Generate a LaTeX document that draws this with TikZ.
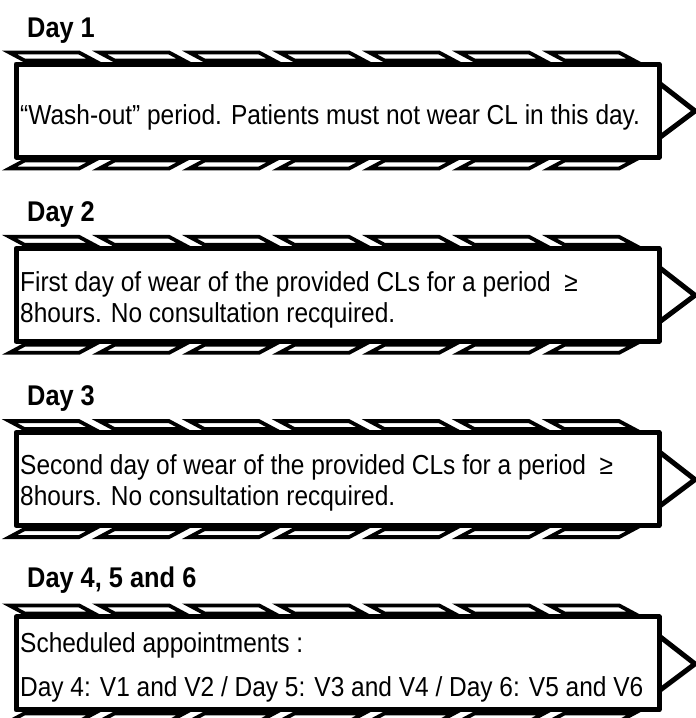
\documentclass[tikz,border=0pt]{standalone}
\usepackage{fontspec}
\setmainfont{Liberation Sans}[FakeStretch=0.89]
\usepackage{xcolor}

\tikzset{
	boxline/.style={line width=5pt, line join=round},
	tabline/.style={line width=3.8pt, fill=white, draw=black, line join=miter},
	daylabel/.style={anchor=base west, inner sep=0pt, font=\fontsize{28.5}{33}\selectfont\bfseries},
	daytext/.style={anchor=base west, inner sep=0pt, align=left, font=\fontsize{27.5}{31}\selectfont}
}

\begin{document}
\begin{tikzpicture}[x=1pt,y=-1pt]
	% Parameters
	\def\boxl{16}
	\def\boxr{659}
	\def\boxh{93}
	\def\pitch{184.3}
	\def\firsttop{64}
	\def\tipx{695}
	\def\tabstep{90}
	\def\tabw{69.5}
	\def\slant{15}
	
	\useasboundingbox (0,0) rectangle (696,718);
	\clip (0,0) rectangle (696,718);
	
	%blocks
	\foreach \i in {0,...,3} {
		\begin{scope}[shift={(0,\firsttop+\i*\pitch)}]
			\draw[boxline] (\boxl,0) rectangle (\boxr,\boxh);
			\draw[boxline, line join=miter] (\boxr,19) -- (\tipx,47) -- (\boxr,74);
			%tabs above and below
			\foreach \k in {0,...,6} {
				\filldraw[tabline] (9.5+\k*\tabstep,-11.5) -- ++(\tabw,0) -- ++(\slant,8) -- ++(-\tabw,0) -- cycle;
				\filldraw[tabline] (9.5+\k*\tabstep,\boxh+11.5) -- ++(\tabw,0) -- ++(\slant,-8) -- ++(-\tabw,0) -- cycle;
			}
		\end{scope}
	}
	
	%labels
	\node[daylabel] (day1) at (27,\firsttop-27) {Day 1};
	\node[daylabel] (day2) at (27,\firsttop+\pitch-27) {Day 2};
	\node[daylabel] (day3) at (27,\firsttop+2*\pitch-27) {Day 3};
	\node[daylabel] (day456) at (27,\firsttop+3*\pitch-29) {Day 4, 5 and 6};
	
	%texts (anchored at the baseline of the last line)
	\node[daytext] (txt1) at (20,\firsttop+60) {“Wash-out” period. Patients must not wear CL in this day.};
	\node[daytext] (txt2) at (20,\firsttop+\pitch+74) {First day of wear of the provided CLs for a period \ ≥\\8hours. No consultation recquired.};
	\node[daytext] (txt3) at (20,\firsttop+2*\pitch+73) {Second day of wear of the provided CLs for a period \ ≥\\8hours. No consultation recquired.};
	\node[daytext] (txt456) at (20,\firsttop+3*\pitch+80) {Scheduled appointments :\\[13pt]Day 4: V1 and V2 / Day 5: V3 and V4 / Day 6: V5 and V6};
	
\end{tikzpicture}
\end{document}
